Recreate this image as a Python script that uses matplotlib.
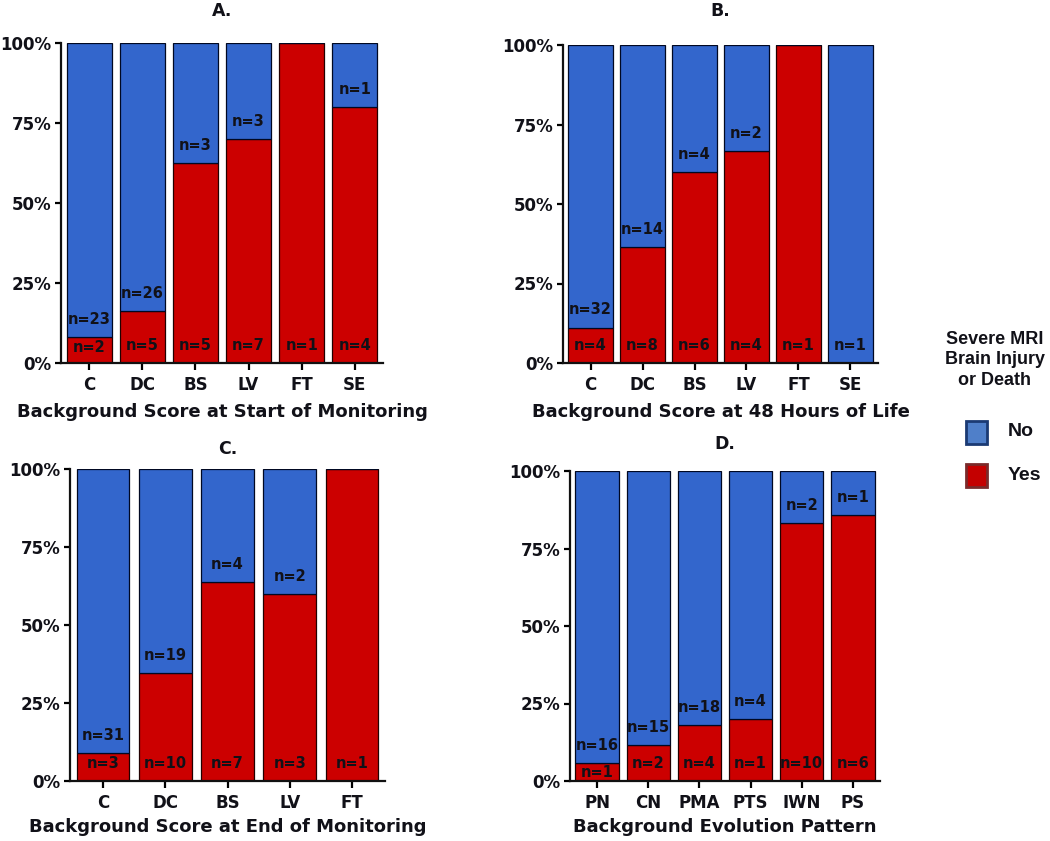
import matplotlib
matplotlib.use("Agg")
import matplotlib.pyplot as plt
from matplotlib.patches import Rectangle
import numpy as np

plt.rcParams['font.family'] = ['DejaVu Sans']

# ---- data ----
cats_a = ["C", "DC", "BS", "LV", "FT", "SE"]
yes_a = [2, 5, 5, 7, 1, 4]
no_a = [23, 26, 3, 3, 0, 1]

cats_b = ["C", "DC", "BS", "LV", "FT", "SE"]
yes_b = [4, 8, 6, 4, 1, 0]
no_b = [32, 14, 4, 2, 0, 1]

cats_c = ["C", "DC", "BS", "LV", "FT"]
yes_c = [3, 10, 7, 3, 1]
no_c = [31, 19, 4, 2, 0]

cats_d = ["PN", "CN", "PMA", "PTS", "IWN", "PS"]
yes_d = [1, 2, 4, 1, 10, 6]
no_d = [16, 15, 18, 4, 2, 1]

titles = ["A.", "B.", "C.", "D."]
xlabels = ["Background Score at Start of Monitoring",
           "Background Score at 48 Hours of Life",
           "Background Score at End of Monitoring",
           "Background Evolution Pattern"]
yticklabels = ["0%", "25%", "50%", "75%", "100%"]
legend_title = "Severe MRI\nBrain Injury\nor Death"
legend_labels = ["No", "Yes"]

BLUE = "#3366CC"
RED = "#CC0000"
TXT = "#111118"

W, H = 1050, 841
fig = plt.figure(figsize=(10.5, 8.41), dpi=100)

def pos(l, r, t, b):
    return [l / W, 1 - b / H, (r - l) / W, (b - t) / H]

positions = [pos(61, 383, 43, 363), pos(563, 878, 45, 363),
             pos(70, 385, 469, 781), pos(570, 880, 471, 781)]
title_pads = [19.5, 21, 11, 15.5]
label_pads = [7, 7, 5, 5]
panels = [(cats_a, yes_a, no_a), (cats_b, yes_b, no_b),
          (cats_c, yes_c, no_c), (cats_d, yes_d, no_d)]

for p, tp, lp, (cats, yes, no), title, xl in zip(positions, title_pads, label_pads,
                                                 panels, titles, xlabels):
    ax = fig.add_axes(p)
    yes = np.array(yes, float)
    no = np.array(no, float)
    tot = yes + no
    fy = yes / tot
    fn = no / tot
    x = np.arange(len(cats))
    w = 0.85
    ax.bar(x, fy, width=w, color=RED, edgecolor="#220000", linewidth=0.9, zorder=2)
    ax.bar(x, fn, bottom=fy, width=w, color=BLUE, edgecolor="#000822", linewidth=0.9, zorder=2)
    for xi, y_, n_, f in zip(x, yes, no, fy):
        if y_ > 0:
            yy = f - 0.032 if f < 0.085 else 0.055
            ax.text(xi, yy, f"n={int(y_)}", ha="center", va="center",
                    fontsize=10.5, fontweight="bold", color=TXT, zorder=3)
        if n_ > 0:
            yy = f + 0.056 if y_ > 0 else 0.055
            ax.text(xi, yy, f"n={int(n_)}", ha="center", va="center",
                    fontsize=10.5, fontweight="bold", color=TXT, zorder=3)
    ax.set_xlim(-0.53, len(cats) - 0.47)
    ax.set_ylim(0, 1.0)
    ax.set_yticks([0, 0.25, 0.5, 0.75, 1.0])
    ax.set_yticklabels(yticklabels, fontsize=12, fontweight="bold", color=TXT)
    ax.set_xticks(x)
    ax.set_xticklabels(cats, fontsize=12, fontweight="bold", color=TXT)
    ax.set_xlabel(xl, fontsize=13, fontweight="bold", color=TXT, labelpad=lp)
    ax.set_title(title, fontsize=12.5, fontweight="bold", color=TXT, pad=tp)
    for s in ["top", "right"]:
        ax.spines[s].set_visible(False)
    ax.spines["left"].set_linewidth(1.6)
    ax.spines["bottom"].set_linewidth(1.6)
    ax.spines["left"].set_color("#111111")
    ax.spines["bottom"].set_color("#111111")
    ax.tick_params(axis="x", direction="out", length=5, width=1.6, pad=4)
    ax.tick_params(axis="y", direction="out", length=4, width=1.6, pad=3)

# legend (manual layout)
fig.text(995 / W, 1 - 360 / H, legend_title, ha="center", va="center",
         fontsize=13, fontweight="bold", family="Liberation Sans",
         linespacing=1.25, color=TXT)
leg_fc = ["#4F7FC9", "#C40000"]
leg_ec = ["#1B3A73", "#7A2A2A"]
leg_y = [432, 475]
for lab, fc, ec, yc in zip(legend_labels, leg_fc, leg_ec, leg_y):
    fig.patches.append(Rectangle((966 / W, 1 - (yc + 11.5) / H), 21 / W, 23 / H,
                                 transform=fig.transFigure, facecolor=fc,
                                 edgecolor=ec, linewidth=2.0))
    fig.text(1008 / W, 1 - yc / H, lab, ha="left", va="center", fontsize=14,
             fontweight="bold", family="Liberation Sans", color=TXT)

fig.savefig("out.png", dpi=100)
